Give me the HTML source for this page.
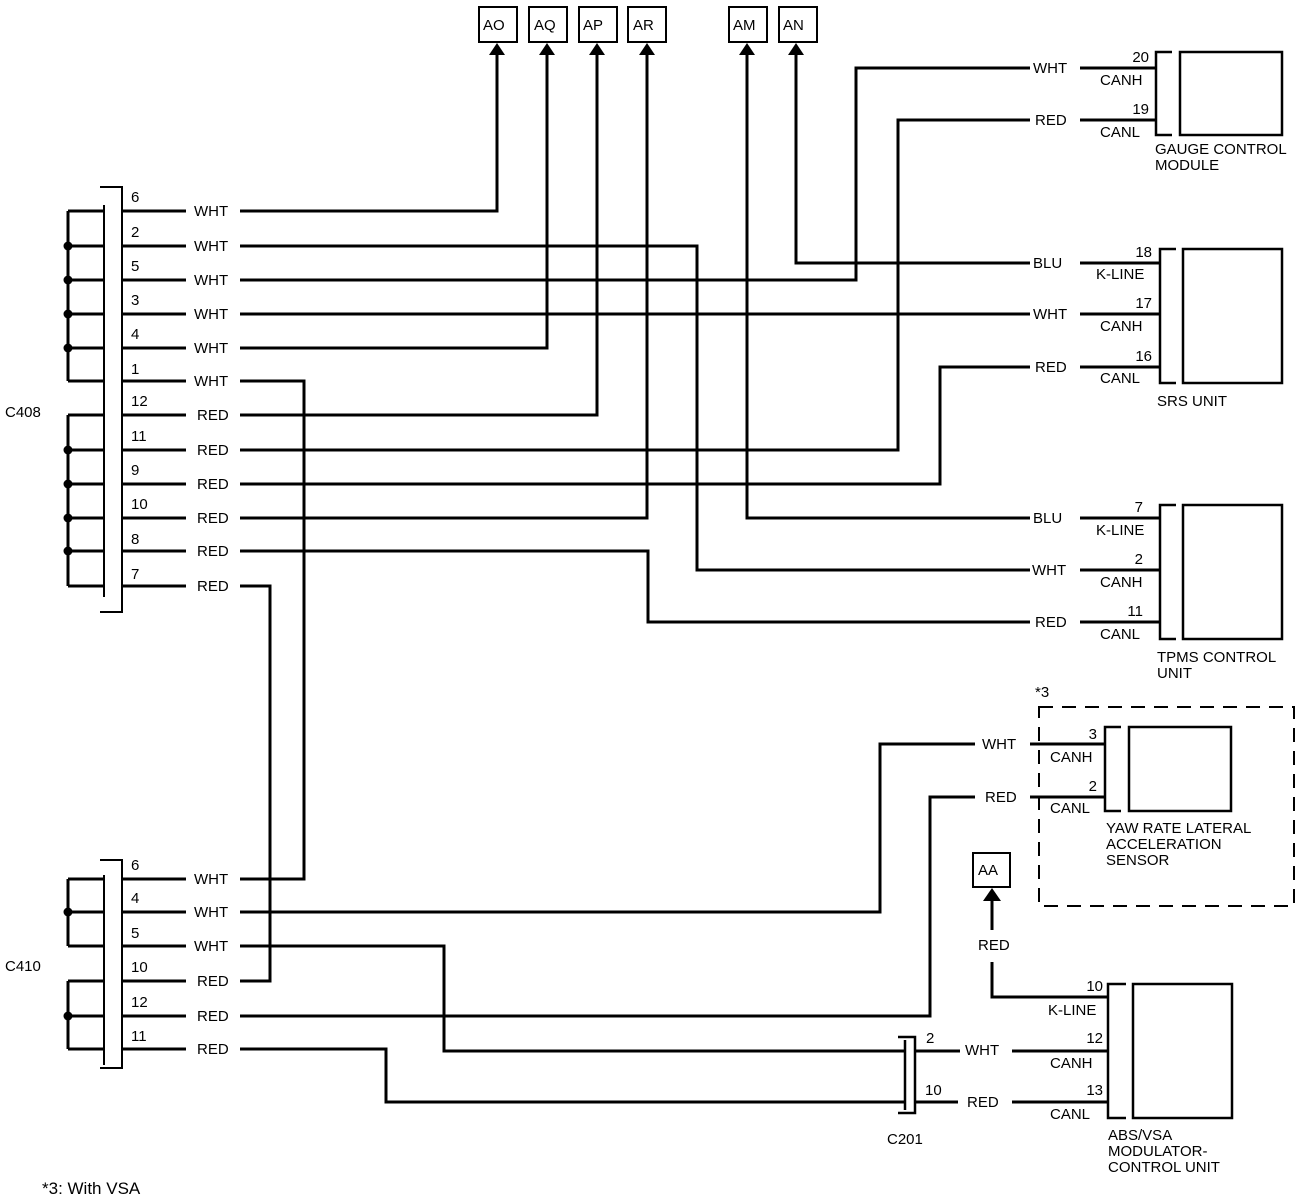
<!DOCTYPE html>
<html><head><meta charset="utf-8"><style>
html,body{margin:0;padding:0;background:#fff}
svg{display:block}
text{font-family:"Liberation Sans",Arial,sans-serif;font-size:15px;fill:#000}
</style></head><body>
<svg width="1312" height="1204" viewBox="0 0 1312 1204" xmlns="http://www.w3.org/2000/svg">
<g fill="none" stroke="#000" stroke-width="3" stroke-linejoin="miter">
<g stroke-width="2">
<rect x="479" y="7" width="38" height="35"/><rect x="529" y="7" width="38" height="35"/>
<rect x="579" y="7" width="38" height="35"/><rect x="628" y="7" width="38" height="35"/>
<rect x="729" y="7" width="38" height="35"/><rect x="779" y="7" width="38" height="35"/>
<rect x="973" y="853" width="37" height="34"/>
</g>
<path d="M100 187 H122 V612 H100" stroke-width="2"/>
<path d="M104 205 V597" stroke-width="2"/>
<path d="M68 211 V381 M68 415 V586"/>
<path d="M68 211H104 M68 246H104 M68 280H104 M68 314H104 M68 348H104 M68 381H104 M68 415H104 M68 450H104 M68 484H104 M68 518H104 M68 551H104 M68 586H104"/>
<path d="M122 211H186 M122 246H186 M122 280H186 M122 314H186 M122 348H186 M122 381H186 M122 415H186 M122 450H186 M122 484H186 M122 518H186 M122 551H186 M122 586H186"/>
<path d="M240 211H497V54"/>
<path d="M240 246H697V570H1030"/>
<path d="M240 280H856V68H1030"/>
<path d="M240 314H1030"/>
<path d="M240 348H547V54"/>
<path d="M240 381H304V879H240"/>
<path d="M240 415H597V54"/>
<path d="M240 450H898V120H1030"/>
<path d="M240 484H940V367H1030"/>
<path d="M240 518H647V54"/>
<path d="M240 551H648V622H1030"/>
<path d="M240 586H270V981H240"/>
<path d="M747 54V518H1030"/>
<path d="M796 54V263H1030"/>
<path d="M1080 68H1156 M1080 120H1156 M1080 263H1160 M1080 314H1160 M1080 367H1160 M1080 518H1160 M1080 570H1160 M1080 622H1160"/>
<path d="M1172 52H1156V135H1172" stroke-width="2.5"/>
<rect x="1180" y="52" width="102" height="83" stroke-width="2.5"/>
<path d="M1176 249H1160V383H1176" stroke-width="2.5"/>
<rect x="1183" y="249" width="99" height="134" stroke-width="2.5"/>
<path d="M1176 505H1160V639H1176" stroke-width="2.5"/>
<rect x="1183" y="505" width="99" height="134" stroke-width="2.5"/>
<rect x="1039" y="707" width="255" height="199" stroke-width="2" stroke-dasharray="14,9"/>
<path d="M1121 727H1105V811H1121" stroke-width="2.5"/>
<rect x="1129" y="727" width="102" height="84" stroke-width="2.5"/>
<path d="M1030 744H1105 M1030 797H1105"/>
<path d="M240 912H880V744H975"/>
<path d="M240 1016H930V797H975"/>
<path d="M100 860H122V1068H100" stroke-width="2"/>
<path d="M104 875V1065" stroke-width="2"/>
<path d="M68 879V946 M68 981V1049"/>
<path d="M68 879H104 M68 912H104 M68 946H104 M68 981H104 M68 1016H104 M68 1049H104"/>
<path d="M122 879H186 M122 912H186 M122 946H186 M122 981H186 M122 1016H186 M122 1049H186"/>
<path d="M240 946H444V1051H905"/>
<path d="M240 1049H386V1102H905"/>
<path d="M898 1037H915V1113H898" stroke-width="2.5"/>
<path d="M905 1040V1110" stroke-width="2.5"/>
<path d="M915 1051H960 M1012 1051H1108 M915 1102H958 M1012 1102H1108"/>
<path d="M1126 984H1108V1118H1126" stroke-width="2.5"/>
<rect x="1133" y="984" width="99" height="134" stroke-width="2.5"/>
<path d="M992 962V997H1108"/>
<path d="M992 930V898"/>
</g>
<g fill="#000">
<polygon points="497,43 489,55 505,55"/><polygon points="547,43 539,55 555,55"/>
<polygon points="597,43 589,55 605,55"/><polygon points="647,43 639,55 655,55"/>
<polygon points="747,43 739,55 755,55"/><polygon points="796,43 788,55 804,55"/>
<polygon points="992,888 983,901 1001,901"/>
<circle cx="68" cy="246" r="4.5"/><circle cx="68" cy="280" r="4.5"/><circle cx="68" cy="314" r="4.5"/><circle cx="68" cy="348" r="4.5"/>
<circle cx="68" cy="450" r="4.5"/><circle cx="68" cy="484" r="4.5"/><circle cx="68" cy="518" r="4.5"/><circle cx="68" cy="551" r="4.5"/>
<circle cx="68" cy="912" r="4.5"/><circle cx="68" cy="1016" r="4.5"/>
</g>
<g>
<text x="483" y="30">AO</text><text x="534" y="30">AQ</text><text x="583" y="30">AP</text><text x="633" y="30">AR</text>
<text x="733" y="30">AM</text><text x="783" y="30">AN</text><text x="978" y="875">AA</text>
<text x="5" y="417">C408</text><text x="5" y="971">C410</text>
<g>
<text x="131" y="202">6</text><text x="131" y="237">2</text><text x="131" y="271">5</text><text x="131" y="305">3</text><text x="131" y="339">4</text><text x="131" y="374">1</text>
<text x="131" y="406">12</text><text x="131" y="441">11</text><text x="131" y="475">9</text><text x="131" y="509">10</text><text x="131" y="544">8</text><text x="131" y="579">7</text>
</g>
<g>
<text x="194" y="216">WHT</text><text x="194" y="251">WHT</text><text x="194" y="285">WHT</text><text x="194" y="319">WHT</text><text x="194" y="353">WHT</text><text x="194" y="386">WHT</text>
<text x="197" y="420">RED</text><text x="197" y="455">RED</text><text x="197" y="489">RED</text><text x="197" y="523">RED</text><text x="197" y="556">RED</text><text x="197" y="591">RED</text>
</g>
<g>
<text x="131" y="870">6</text><text x="131" y="903">4</text><text x="131" y="938">5</text><text x="131" y="972">10</text><text x="131" y="1007">12</text><text x="131" y="1041">11</text>
<text x="194" y="884">WHT</text><text x="194" y="917">WHT</text><text x="194" y="951">WHT</text>
<text x="197" y="986">RED</text><text x="197" y="1021">RED</text><text x="197" y="1054">RED</text>
</g>
<text x="1033" y="73">WHT</text><text x="1035" y="125">RED</text>
<text x="1033" y="268">BLU</text><text x="1033" y="319">WHT</text><text x="1035" y="372">RED</text>
<text x="1033" y="523">BLU</text><text x="1032" y="575">WHT</text><text x="1035" y="627">RED</text>
<text x="982" y="749">WHT</text><text x="985" y="802">RED</text>
<text x="965" y="1055">WHT</text><text x="967" y="1107">RED</text>
<text x="978" y="950">RED</text>
<g text-anchor="end">
<text x="1149" y="62">20</text><text x="1149" y="114">19</text>
<text x="1152" y="257">18</text><text x="1152" y="308">17</text><text x="1152" y="361">16</text>
<text x="1143" y="512">7</text><text x="1143" y="564">2</text><text x="1143" y="616">11</text>
<text x="1097" y="739">3</text><text x="1097" y="791">2</text>
<text x="1103" y="991">10</text><text x="1103" y="1043">12</text><text x="1103" y="1095">13</text>
</g>
<text x="1100" y="85">CANH</text><text x="1100" y="137">CANL</text>
<text x="1096" y="279">K-LINE</text><text x="1100" y="331">CANH</text><text x="1100" y="383">CANL</text>
<text x="1096" y="535">K-LINE</text><text x="1100" y="587">CANH</text><text x="1100" y="639">CANL</text>
<text x="1050" y="762">CANH</text><text x="1050" y="813">CANL</text>
<text x="1048" y="1015">K-LINE</text><text x="1050" y="1068">CANH</text><text x="1050" y="1119">CANL</text>
<text x="926" y="1043">2</text><text x="925" y="1095">10</text>
<text x="887" y="1144">C201</text>
<text x="1155" y="154">GAUGE CONTROL</text><text x="1155" y="170">MODULE</text>
<text x="1157" y="406">SRS UNIT</text>
<text x="1157" y="662">TPMS CONTROL</text><text x="1157" y="678">UNIT</text>
<text x="1035" y="697">*3</text>
<text x="1106" y="833">YAW RATE LATERAL</text><text x="1106" y="849">ACCELERATION</text><text x="1106" y="865">SENSOR</text>
<text x="1108" y="1140">ABS/VSA</text><text x="1108" y="1156">MODULATOR-</text><text x="1108" y="1172">CONTROL UNIT</text>
<text x="42" y="1194" style="font-size:17px">*3: With VSA</text>
</g>
</svg>
</body></html>
